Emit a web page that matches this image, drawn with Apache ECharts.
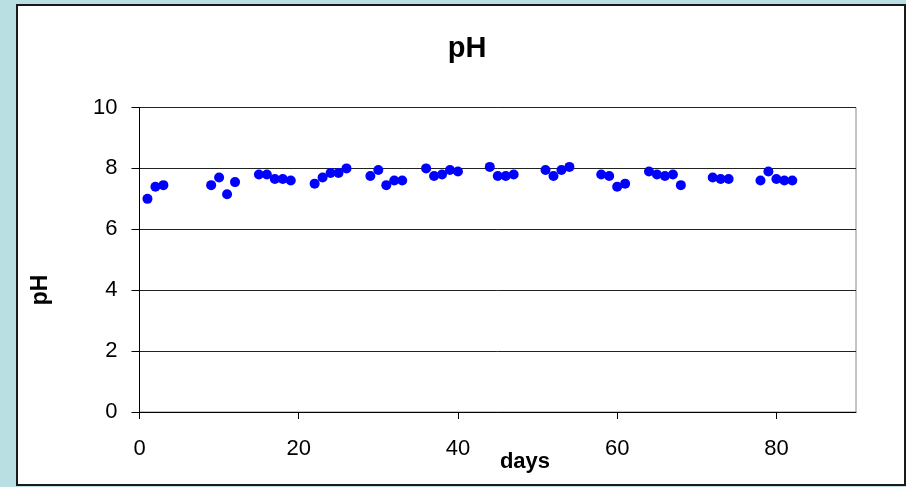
<!DOCTYPE html>
<html>
<head>
    <meta charset="utf-8">
    <script src="https://cdn.jsdelivr.net/npm/echarts@6/dist/echarts.min.js"></script>
    <style>
        body { margin: 0; background: #b9dfe2; }
        #frame { position: absolute; left: 16px; top: 4px; width: 886px; height: 478px; background: #fff; border: 2px solid #1a1a1a; }
        #main { position: absolute; left: 0; top: 0; width: 906px; height: 487px; }
    </style>
</head>
<body>
<div id="frame"></div>
<div id="main"></div>

<script type="text/javascript">
    var days = [1, 2, 3, 9, 10, 11, 12, 15, 16, 17, 18, 19, 22, 23, 24, 25, 26, 29, 30, 31, 32, 33,
        36, 37, 38, 39, 40, 44, 45, 46, 47, 51, 52, 53, 54, 58, 59, 60, 61, 64, 65, 66, 67, 68,
        72, 73, 74, 78, 79, 80, 81, 82];
    var ph = [7.0, 7.4, 7.45, 7.45, 7.7, 7.15, 7.55, 7.8, 7.8, 7.65, 7.65, 7.6, 7.5, 7.7, 7.85, 7.85, 8.0,
        7.75, 7.95, 7.45, 7.6, 7.6, 8.0, 7.75, 7.8, 7.95, 7.9, 8.05, 7.75, 7.75, 7.8,
        7.95, 7.75, 7.95, 8.05, 7.8, 7.75, 7.4, 7.5, 7.9, 7.8, 7.75, 7.8, 7.45,
        7.7, 7.65, 7.65, 7.6, 7.9, 7.65, 7.6, 7.6];
    var xTicks = [0, 20, 40, 60, 80];

    var points = [];
    for (var i = 0; i < days.length; i++) {
        points.push([days[i], ph[i]]);
    }

    var myChart = echarts.init(document.getElementById('main'));

    var labelFont = { fontFamily: 'Liberation Sans, Arial', fontSize: 22, color: '#000' };

    var option = {
        animation: false,
        backgroundColor: 'transparent',
        title: {
            text: 'pH',
            left: 462,
            top: 29,
            textAlign: 'center',
            textStyle: { fontFamily: 'Liberation Sans, Arial', fontSize: 29, fontWeight: 'bold', color: '#000' }
        },
        grid: {
            left: 139.5, right: 50, top: 107.5, bottom: 75,
            show: true, borderColor: '#888', borderWidth: 1, backgroundColor: 'transparent'
        },
        xAxis: {
            type: 'value',
            min: 0, max: 90, interval: 20,
            axisLine: { lineStyle: { color: '#000', width: 1 } },
            axisTick: { inside: false, length: 7, customValues: xTicks, lineStyle: { color: '#000' } },
            axisLabel: Object.assign({ margin: 26, customValues: xTicks }, labelFont),
            splitLine: { show: false }
        },
        yAxis: {
            type: 'value',
            min: 0, max: 10, interval: 2,
            axisLine: { show: true, lineStyle: { color: '#000', width: 1 } },
            axisTick: { show: true, inside: false, length: 8, lineStyle: { color: '#000' } },
            axisLabel: Object.assign({ margin: 22 }, labelFont),
            splitLine: { show: true, lineStyle: { color: '#222', width: 1 } }
        },
        graphic: [
            {
                type: 'text', x: 41, y: 290, rotation: Math.PI / 2,
                style: { text: 'pH', fontFamily: 'Liberation Sans, Arial', fontSize: 23, fontWeight: 'bold',
                    fill: '#000', align: 'center', verticalAlign: 'middle' }
            },
            {
                type: 'text', x: 525, y: 462,
                style: { text: 'days', fontFamily: 'Liberation Sans, Arial', fontSize: 22, fontWeight: 'bold',
                    fill: '#000', align: 'center', verticalAlign: 'middle' }
            }
        ],
        series: [
            {
                name: 'pH',
                type: 'scatter',
                data: points,
                symbol: 'circle',
                symbolSize: 10,
                itemStyle: { color: '#0000ff', opacity: 1 }
            }
        ]
    };

    myChart.setOption(option);
</script>
</body>
</html>
